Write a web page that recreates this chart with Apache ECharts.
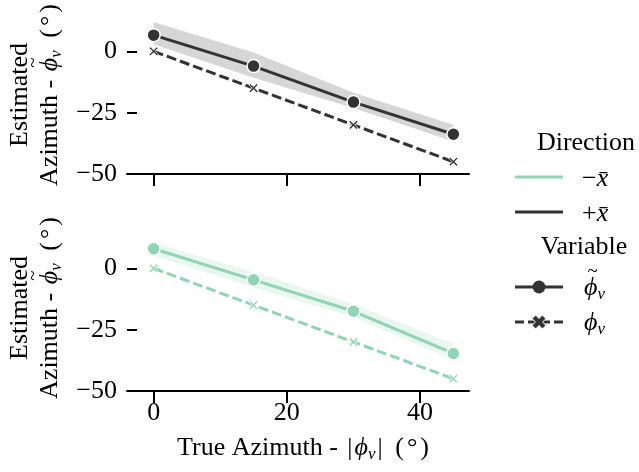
<!DOCTYPE html>
<html><head><meta charset="utf-8">
<script src="https://cdn.jsdelivr.net/npm/echarts@6/dist/echarts.min.js"></script>
<style>html,body{margin:0;padding:0;background:#fff}#chart{width:639px;height:472px}</style>
</head><body><div id="chart"></div>
<script>
// True azimuth values (degrees) along the shared x axis
const azimuth = [0, 15, 30, 45];
const xTicks = [0, 20, 40];
const yTicks = [-50, -25, 0];

// +x̄ direction (upper panel)
const posEstimated = [6.6, -6.0, -20.7, -33.8];
const posEstLower = [2.9, -10.8, -23.1, -36.8];
const posEstUpper = [12.0, -0.5, -16.9, -29.9];
const posTrue = [0, -15, -30, -45];

// −x̄ direction (lower panel)
const negEstimated = [8.0, -4.7, -17.5, -34.7];
const negEstLower = [5.1, -7.8, -19.9, -37.4];
const negEstUpper = [10.4, -1.5, -14.5, -30.7];
const negTrue = [0, -15, -30, -45];

const DARK = '#333333';
const DARK_BAND = '#d6d6d6';
const GREEN = '#8fd5b4';
const GREEN_BAND = '#e9f7f0';
const FONT = 'Liberation Serif';
const FS = 26;
const SUB = 17;
const X_PATH = 'path://M1.5,0 L5,3.5 L8.5,0 L10,1.5 L6.5,5 L10,8.5 L8.5,10 L5,6.5 L1.5,10 L0,8.5 L3.5,5 L0,1.5 Z';

const pairs = (ys) => azimuth.map((x, i) => [x, ys[i]]);
const minusFmt = (v) => String(v).replace('-', '\u2212');

// --- small math-text helper built from plain text pieces ---
const measureCtx = document.createElement('canvas').getContext('2d');
function textWidth(t, size, italic) {
  measureCtx.font = (italic ? 'italic ' : '') + size + 'px "' + FONT + '"';
  return measureCtx.measureText(t).width;
}
function mathLine(parts, dy) {
  const items = [];
  let x = 0;
  parts.forEach(p => {
    if (p.gap) { x += p.gap; return; }
    const size = p.sub ? SUB : FS;
    const w = textWidth(p.t, size, p.i);
    items.push({ type: 'text', x, y: dy + (p.sub ? 7 : 0), silent: true,
      style: { text: p.t, fontFamily: FONT, fontSize: size, fontStyle: p.i ? 'italic' : 'normal',
        fill: '#000', align: 'left', verticalAlign: 'middle' } });
    if (p.tilde) {
      items.push({ type: 'text', x: x + w / 2 + 2, y: dy - 16, silent: true,
        style: { text: '~', fontFamily: FONT, fontSize: 19, fill: '#000', align: 'center', verticalAlign: 'middle' } });
    }
    x += w;
  });
  return { items, width: x };
}
function mathGroup(lines, opts) {
  const children = [];
  lines.forEach(L => {
    const m = mathLine(L.parts, L.dy || 0);
    const shift = opts.align === 'left' ? 0 : -m.width / 2;
    m.items.forEach(it => { it.x += shift; children.push(it); });
  });
  return { type: 'group', x: opts.x, y: opts.y, rotation: opts.rotation || 0, children };
}

const degreeParts = [{ gap: 6 }, { t: ' (' }, { gap: 3 }, { t: '°' }, { gap: 3 }, { t: ')' }];
const yTitleLines = [
  { parts: [{ t: 'Estimated' }], dy: -14.5 },
  { parts: [{ t: 'Azimuth - ' }, { gap: 2 }, { t: 'ϕ', i: true, tilde: true }, { t: 'v', i: true, sub: true }, ...degreeParts], dy: 15 }
];
const xTitleLines = [
  { parts: [{ t: 'True Azimuth - ' }, { gap: 3 }, { t: '|' }, { gap: 2 }, { t: 'ϕ', i: true }, { t: 'v', i: true, sub: true },
    { gap: 2 }, { t: '|' }, ...degreeParts] }
];

function xAxisFor(gridIndex, showLabels) {
  return {
    type: 'value', gridIndex, min: -4, max: 47.35,
    axisLine: { show: true, onZero: false, lineStyle: { color: '#000', width: 2 } },
    axisTick: { show: true, length: 12, lineStyle: { color: '#000', width: 2 }, customValues: xTicks },
    axisLabel: { show: showLabels, customValues: xTicks, margin: 9, fontFamily: FONT, fontSize: FS, color: '#000' },
    splitLine: { show: false }
  };
}

function yAxisFor(gridIndex) {
  return {
    type: 'value', gridIndex, min: -50, max: 14,
    axisLine: { show: false, onZero: false },
    axisTick: { show: true, inside: true, length: 10, lineStyle: { color: '#000', width: 2 }, customValues: yTicks },
    axisLabel: { customValues: yTicks, margin: 10, fontFamily: FONT, fontSize: FS, color: '#000', formatter: minusFmt },
    splitLine: { show: false }
  };
}

// shaded interval between lower and upper estimates, drawn as one polygon through the axes' scales
function bandSeries(idx, color, lo, hi) {
  return {
    type: 'custom', xAxisIndex: idx, yAxisIndex: idx, silent: true, z: 1,
    data: azimuth.map((x, i) => [x, lo[i], hi[i]]),
    encode: { x: 0, y: [1, 2] },
    renderItem: (params, api) => {
      if (params.dataIndex !== 0) return null;
      const top = azimuth.map((x, i) => api.coord([x, hi[i]]));
      const bottom = azimuth.map((x, i) => api.coord([x, lo[i]])).reverse();
      return { type: 'polygon', shape: { points: top.concat(bottom) }, style: { fill: color } };
    }
  };
}

function panelSeries(idx, color, band, est, lo, hi, truth) {
  return [
    bandSeries(idx, band, lo, hi),
    { type: 'line', xAxisIndex: idx, yAxisIndex: idx, data: pairs(truth), symbol: X_PATH, symbolSize: 9,
      lineStyle: { color, width: 3, type: [10, 4] },
      itemStyle: { color, borderColor: '#fff', borderWidth: 0.8 }, z: 3 },
    { type: 'line', xAxisIndex: idx, yAxisIndex: idx, data: pairs(est), symbol: 'circle', symbolSize: 13,
      lineStyle: { color, width: 3 },
      itemStyle: { color, borderColor: '#fff', borderWidth: 1.5 }, z: 4 }
  ];
}

// bold "X" marker outline for the legend, centred on (cx, cy)
function boldX(cx, cy, s) {
  const a = s * 0.26, h = s / 2;
  const pts = [[-h + a, -h], [0, -h + a * 0.95], [h - a, -h], [h, -h + a], [h - a * 0.95, 0], [h, h - a],
    [h - a, h], [0, h - a * 0.95], [-h + a, h], [-h, h - a], [-h + a * 0.95, 0], [-h, -h + a]];
  return pts.map(p => [cx + p[0], cy + p[1]]);
}

const plainText = (text, x, y, align) => ({
  type: 'text', x, y, silent: true,
  style: { text, fontFamily: FONT, fontSize: FS, fill: '#000', align: align || 'left', verticalAlign: 'middle' }
});

const chart = echarts.init(document.getElementById('chart'), null, { renderer: 'canvas' });

chart.setOption({
  animation: false,
  backgroundColor: '#fff',
  grid: [
    { left: 127, top: 17, width: 342, height: 157 },
    { left: 127, top: 234, width: 342, height: 157 }
  ],
  xAxis: [xAxisFor(0, false), xAxisFor(1, true)],
  yAxis: [yAxisFor(0), yAxisFor(1)],
  series: [
    ...panelSeries(0, DARK, DARK_BAND, posEstimated, posEstLower, posEstUpper, posTrue),
    ...panelSeries(1, GREEN, GREEN_BAND, negEstimated, negEstLower, negEstUpper, negTrue)
  ],
  graphic: [
    // axis titles
    mathGroup(yTitleLines, { x: 35, y: 95, rotation: Math.PI / 2 }),
    mathGroup(yTitleLines, { x: 35, y: 308, rotation: Math.PI / 2 }),
    mathGroup(xTitleLines, { x: 303, y: 448 }),
    // legend
    plainText('Direction', 586, 143, 'center'),
    { type: 'line', shape: { x1: 515, y1: 177, x2: 563, y2: 177 }, style: { stroke: GREEN, lineWidth: 3 } },
    mathGroup([{ parts: [{ t: '\u2212' }, { t: 'x̄', i: true }] }], { x: 582, y: 179, align: 'left' }),
    { type: 'line', shape: { x1: 515, y1: 212, x2: 563, y2: 212 }, style: { stroke: DARK, lineWidth: 3 } },
    mathGroup([{ parts: [{ t: '+' }, { t: 'x̄', i: true }] }], { x: 582, y: 214, align: 'left' }),
    plainText('Variable', 584, 247, 'center'),
    { type: 'line', shape: { x1: 515, y1: 287, x2: 563, y2: 287 }, style: { stroke: DARK, lineWidth: 3 } },
    { type: 'circle', shape: { cx: 539, cy: 287, r: 6.5 }, style: { fill: DARK } },
    mathGroup([{ parts: [{ t: 'ϕ', i: true, tilde: true }, { t: 'v', i: true, sub: true }] }], { x: 584, y: 288, align: 'left' }),
    { type: 'line', shape: { x1: 515, y1: 322, x2: 563, y2: 322 }, style: { stroke: DARK, lineWidth: 3, lineDash: [9, 4] } },
    { type: 'polygon', shape: { points: boldX(539, 322, 14) }, style: { fill: DARK, stroke: '#fff', lineWidth: 1 } },
    mathGroup([{ parts: [{ t: 'ϕ', i: true }, { t: 'v', i: true, sub: true }] }], { x: 584, y: 323, align: 'left' })
  ]
});
</script>
</body></html>
